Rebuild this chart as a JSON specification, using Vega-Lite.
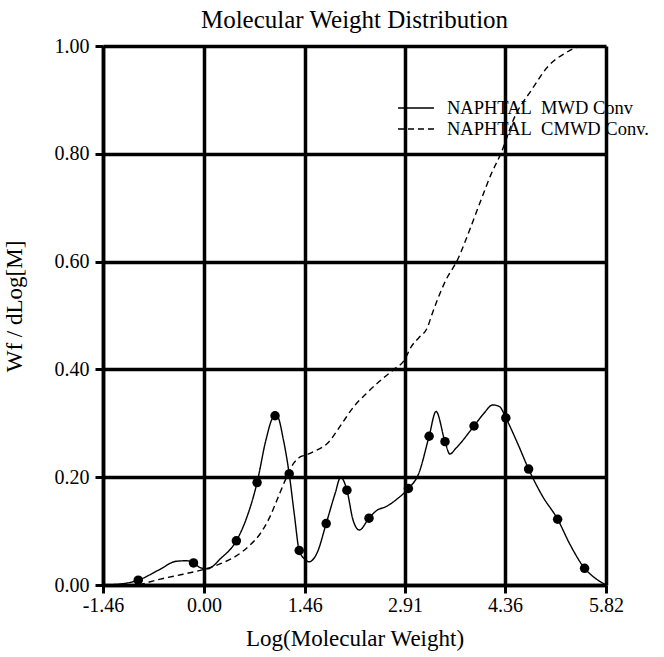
{
  "$schema": "https://vega.github.io/schema/vega-lite/v6.json",
  "autosize": {"type": "none"},
  "padding": {"left": 103, "top": 46, "right": 58, "bottom": 72},
  "width": 503,
  "height": 539,
  "background": "white",
  "title": {
    "text": "Molecular Weight Distribution",
    "font": "Liberation Serif",
    "fontSize": 25,
    "fontWeight": "normal",
    "color": "black",
    "anchor": "middle",
    "offset": 3
  },
  "datasets": {
    "curves": [
      {"logM": -1.46, "wf": 0.0, "series": "NAPHTAL\u00a0 MWD Conv"},
      {"logM": -1.2, "wf": 0.002, "series": "NAPHTAL\u00a0 MWD Conv"},
      {"logM": -0.95, "wf": 0.009, "series": "NAPHTAL\u00a0 MWD Conv"},
      {"logM": -0.65, "wf": 0.028, "series": "NAPHTAL\u00a0 MWD Conv"},
      {"logM": -0.4, "wf": 0.044, "series": "NAPHTAL\u00a0 MWD Conv"},
      {"logM": -0.25, "wf": 0.045, "series": "NAPHTAL\u00a0 MWD Conv"},
      {"logM": -0.15, "wf": 0.041, "series": "NAPHTAL\u00a0 MWD Conv"},
      {"logM": -0.05, "wf": 0.032, "series": "NAPHTAL\u00a0 MWD Conv"},
      {"logM": 0.05, "wf": 0.03, "series": "NAPHTAL\u00a0 MWD Conv"},
      {"logM": 0.25, "wf": 0.05, "series": "NAPHTAL\u00a0 MWD Conv"},
      {"logM": 0.47, "wf": 0.082, "series": "NAPHTAL\u00a0 MWD Conv"},
      {"logM": 0.62, "wf": 0.125, "series": "NAPHTAL\u00a0 MWD Conv"},
      {"logM": 0.77, "wf": 0.19, "series": "NAPHTAL\u00a0 MWD Conv"},
      {"logM": 0.9, "wf": 0.27, "series": "NAPHTAL\u00a0 MWD Conv"},
      {"logM": 1.0, "wf": 0.31, "series": "NAPHTAL\u00a0 MWD Conv"},
      {"logM": 1.06, "wf": 0.313, "series": "NAPHTAL\u00a0 MWD Conv"},
      {"logM": 1.15, "wf": 0.27, "series": "NAPHTAL\u00a0 MWD Conv"},
      {"logM": 1.235, "wf": 0.206, "series": "NAPHTAL\u00a0 MWD Conv"},
      {"logM": 1.31, "wf": 0.13, "series": "NAPHTAL\u00a0 MWD Conv"},
      {"logM": 1.38, "wf": 0.064, "series": "NAPHTAL\u00a0 MWD Conv"},
      {"logM": 1.46, "wf": 0.048, "series": "NAPHTAL\u00a0 MWD Conv"},
      {"logM": 1.52, "wf": 0.043, "series": "NAPHTAL\u00a0 MWD Conv"},
      {"logM": 1.64, "wf": 0.06, "series": "NAPHTAL\u00a0 MWD Conv"},
      {"logM": 1.77, "wf": 0.114, "series": "NAPHTAL\u00a0 MWD Conv"},
      {"logM": 1.9, "wf": 0.17, "series": "NAPHTAL\u00a0 MWD Conv"},
      {"logM": 1.98, "wf": 0.2, "series": "NAPHTAL\u00a0 MWD Conv"},
      {"logM": 2.07, "wf": 0.176, "series": "NAPHTAL\u00a0 MWD Conv"},
      {"logM": 2.16, "wf": 0.12, "series": "NAPHTAL\u00a0 MWD Conv"},
      {"logM": 2.25, "wf": 0.102, "series": "NAPHTAL\u00a0 MWD Conv"},
      {"logM": 2.39, "wf": 0.124, "series": "NAPHTAL\u00a0 MWD Conv"},
      {"logM": 2.51, "wf": 0.139, "series": "NAPHTAL\u00a0 MWD Conv"},
      {"logM": 2.63, "wf": 0.145, "series": "NAPHTAL\u00a0 MWD Conv"},
      {"logM": 2.8, "wf": 0.16, "series": "NAPHTAL\u00a0 MWD Conv"},
      {"logM": 2.96, "wf": 0.179, "series": "NAPHTAL\u00a0 MWD Conv"},
      {"logM": 3.11, "wf": 0.207, "series": "NAPHTAL\u00a0 MWD Conv"},
      {"logM": 3.26, "wf": 0.276, "series": "NAPHTAL\u00a0 MWD Conv"},
      {"logM": 3.36, "wf": 0.322, "series": "NAPHTAL\u00a0 MWD Conv"},
      {"logM": 3.49, "wf": 0.266, "series": "NAPHTAL\u00a0 MWD Conv"},
      {"logM": 3.56, "wf": 0.243, "series": "NAPHTAL\u00a0 MWD Conv"},
      {"logM": 3.65, "wf": 0.254, "series": "NAPHTAL\u00a0 MWD Conv"},
      {"logM": 3.91, "wf": 0.295, "series": "NAPHTAL\u00a0 MWD Conv"},
      {"logM": 4.05, "wf": 0.318, "series": "NAPHTAL\u00a0 MWD Conv"},
      {"logM": 4.18, "wf": 0.334, "series": "NAPHTAL\u00a0 MWD Conv"},
      {"logM": 4.28, "wf": 0.331, "series": "NAPHTAL\u00a0 MWD Conv"},
      {"logM": 4.37, "wf": 0.31, "series": "NAPHTAL\u00a0 MWD Conv"},
      {"logM": 4.55, "wf": 0.26, "series": "NAPHTAL\u00a0 MWD Conv"},
      {"logM": 4.7, "wf": 0.215, "series": "NAPHTAL\u00a0 MWD Conv"},
      {"logM": 4.9, "wf": 0.165, "series": "NAPHTAL\u00a0 MWD Conv"},
      {"logM": 5.12, "wf": 0.122, "series": "NAPHTAL\u00a0 MWD Conv"},
      {"logM": 5.3, "wf": 0.075, "series": "NAPHTAL\u00a0 MWD Conv"},
      {"logM": 5.51, "wf": 0.031, "series": "NAPHTAL\u00a0 MWD Conv"},
      {"logM": 5.65, "wf": 0.014, "series": "NAPHTAL\u00a0 MWD Conv"},
      {"logM": 5.82, "wf": 0.0, "series": "NAPHTAL\u00a0 MWD Conv"},
      {"logM": -0.94, "wf": 0.0, "series": "NAPHTAL\u00a0 CMWD Conv."},
      {"logM": -0.63, "wf": 0.011, "series": "NAPHTAL\u00a0 CMWD Conv."},
      {"logM": -0.3, "wf": 0.02, "series": "NAPHTAL\u00a0 CMWD Conv."},
      {"logM": 0.0, "wf": 0.029, "series": "NAPHTAL\u00a0 CMWD Conv."},
      {"logM": 0.25, "wf": 0.04, "series": "NAPHTAL\u00a0 CMWD Conv."},
      {"logM": 0.47, "wf": 0.054, "series": "NAPHTAL\u00a0 CMWD Conv."},
      {"logM": 0.65, "wf": 0.072, "series": "NAPHTAL\u00a0 CMWD Conv."},
      {"logM": 0.82, "wf": 0.096, "series": "NAPHTAL\u00a0 CMWD Conv."},
      {"logM": 0.95, "wf": 0.125, "series": "NAPHTAL\u00a0 CMWD Conv."},
      {"logM": 1.06, "wf": 0.158, "series": "NAPHTAL\u00a0 CMWD Conv."},
      {"logM": 1.18, "wf": 0.195, "series": "NAPHTAL\u00a0 CMWD Conv."},
      {"logM": 1.3, "wf": 0.226, "series": "NAPHTAL\u00a0 CMWD Conv."},
      {"logM": 1.4, "wf": 0.238, "series": "NAPHTAL\u00a0 CMWD Conv."},
      {"logM": 1.47, "wf": 0.241, "series": "NAPHTAL\u00a0 CMWD Conv."},
      {"logM": 1.6, "wf": 0.248, "series": "NAPHTAL\u00a0 CMWD Conv."},
      {"logM": 1.79, "wf": 0.263, "series": "NAPHTAL\u00a0 CMWD Conv."},
      {"logM": 2.0, "wf": 0.3, "series": "NAPHTAL\u00a0 CMWD Conv."},
      {"logM": 2.17, "wf": 0.331, "series": "NAPHTAL\u00a0 CMWD Conv."},
      {"logM": 2.35, "wf": 0.355, "series": "NAPHTAL\u00a0 CMWD Conv."},
      {"logM": 2.56, "wf": 0.38, "series": "NAPHTAL\u00a0 CMWD Conv."},
      {"logM": 2.75, "wf": 0.4, "series": "NAPHTAL\u00a0 CMWD Conv."},
      {"logM": 2.9, "wf": 0.417, "series": "NAPHTAL\u00a0 CMWD Conv."},
      {"logM": 3.0, "wf": 0.442, "series": "NAPHTAL\u00a0 CMWD Conv."},
      {"logM": 3.12, "wf": 0.46, "series": "NAPHTAL\u00a0 CMWD Conv."},
      {"logM": 3.24, "wf": 0.479, "series": "NAPHTAL\u00a0 CMWD Conv."},
      {"logM": 3.29, "wf": 0.498, "series": "NAPHTAL\u00a0 CMWD Conv."},
      {"logM": 3.38, "wf": 0.529, "series": "NAPHTAL\u00a0 CMWD Conv."},
      {"logM": 3.5, "wf": 0.565, "series": "NAPHTAL\u00a0 CMWD Conv."},
      {"logM": 3.67, "wf": 0.603, "series": "NAPHTAL\u00a0 CMWD Conv."},
      {"logM": 3.85, "wf": 0.66, "series": "NAPHTAL\u00a0 CMWD Conv."},
      {"logM": 4.01, "wf": 0.714, "series": "NAPHTAL\u00a0 CMWD Conv."},
      {"logM": 4.15, "wf": 0.76, "series": "NAPHTAL\u00a0 CMWD Conv."},
      {"logM": 4.3, "wf": 0.801, "series": "NAPHTAL\u00a0 CMWD Conv."},
      {"logM": 4.5, "wf": 0.869, "series": "NAPHTAL\u00a0 CMWD Conv."},
      {"logM": 4.74, "wf": 0.918, "series": "NAPHTAL\u00a0 CMWD Conv."},
      {"logM": 4.98, "wf": 0.962, "series": "NAPHTAL\u00a0 CMWD Conv."},
      {"logM": 5.22, "wf": 0.986, "series": "NAPHTAL\u00a0 CMWD Conv."},
      {"logM": 5.46, "wf": 0.999, "series": "NAPHTAL\u00a0 CMWD Conv."},
      {"logM": 5.82, "wf": 1.0, "series": "NAPHTAL\u00a0 CMWD Conv."}
    ],
    "samples": [
      {"logM": -0.95, "wf": 0.009},
      {"logM": -0.15, "wf": 0.041},
      {"logM": 0.47, "wf": 0.082},
      {"logM": 0.77, "wf": 0.19},
      {"logM": 1.03, "wf": 0.314},
      {"logM": 1.235, "wf": 0.206},
      {"logM": 1.38, "wf": 0.064},
      {"logM": 1.77, "wf": 0.114},
      {"logM": 2.07, "wf": 0.176},
      {"logM": 2.39, "wf": 0.124},
      {"logM": 2.96, "wf": 0.179},
      {"logM": 3.26, "wf": 0.276},
      {"logM": 3.49, "wf": 0.266},
      {"logM": 3.91, "wf": 0.295},
      {"logM": 4.37, "wf": 0.31},
      {"logM": 4.7, "wf": 0.215},
      {"logM": 5.12, "wf": 0.122},
      {"logM": 5.51, "wf": 0.031}
    ]
  },
  "encoding": {
    "x": {
      "field": "logM",
      "type": "quantitative",
      "scale": {"domain": [-1.46, 5.82], "nice": false, "zero": false},
      "axis": {
        "title": "Log(Molecular Weight)",
        "values": [-1.46, 0, 1.46, 2.91, 4.36, 5.82],
        "format": ".2f",
        "labelExpr": "replace(datum.label, '\u2212', '-')",
        "labelPadding": 2,
        "titlePadding": 12
      }
    },
    "y": {
      "field": "wf",
      "type": "quantitative",
      "scale": {"domain": [0, 1], "nice": false},
      "axis": {
        "title": "Wf / dLog[M]",
        "values": [0, 0.2, 0.4, 0.6, 0.8, 1.0],
        "format": ".2f",
        "labelPadding": 6,
        "titlePadding": 28,
        "titleY": 260
      }
    }
  },
  "layer": [
    {
      "data": {"name": "curves"},
      "mark": {"type": "line", "interpolate": "monotone", "color": "black", "strokeWidth": 1.4},
      "encoding": {
        "strokeDash": {
          "field": "series",
          "type": "nominal",
          "scale": {
            "domain": ["NAPHTAL\u00a0 MWD Conv", "NAPHTAL\u00a0 CMWD Conv."],
            "range": [[1, 0], [6, 4]]
          },
          "legend": {
            "title": null,
            "orient": "none",
            "legendX": 302,
            "legendY": 51,
            "padding": 0,
            "symbolType": "M-1.8,0H1.8",
            "symbolSize": 400,
            "symbolStrokeWidth": 1.6,
            "symbolStrokeColor": "black",
            "symbolFillColor": "transparent",
            "labelFont": "Liberation Serif",
            "labelFontSize": 18.5,
            "labelColor": "black",
            "labelLimit": 0,
            "labelOffset": 20,
            "rowPadding": 0
          }
        }
      }
    },
    {
      "data": {"name": "samples"},
      "mark": {"type": "point", "filled": true, "color": "black", "size": 90, "opacity": 1}
    }
  ],
  "config": {
    "view": {"stroke": null},
    "axis": {
      "domainColor": "black",
      "domainWidth": 3.5,
      "grid": true,
      "gridColor": "black",
      "gridWidth": 3.5,
      "gridOpacity": 1,
      "tickColor": "black",
      "tickWidth": 3,
      "tickSize": 8,
      "labelFont": "Liberation Serif",
      "labelFontSize": 20,
      "labelColor": "black",
      "labelOverlap": false,
      "labelFlush": false,
      "titleFont": "Liberation Serif",
      "titleFontSize": 23,
      "titleFontWeight": "normal",
      "titleColor": "black"
    }
  }
}
